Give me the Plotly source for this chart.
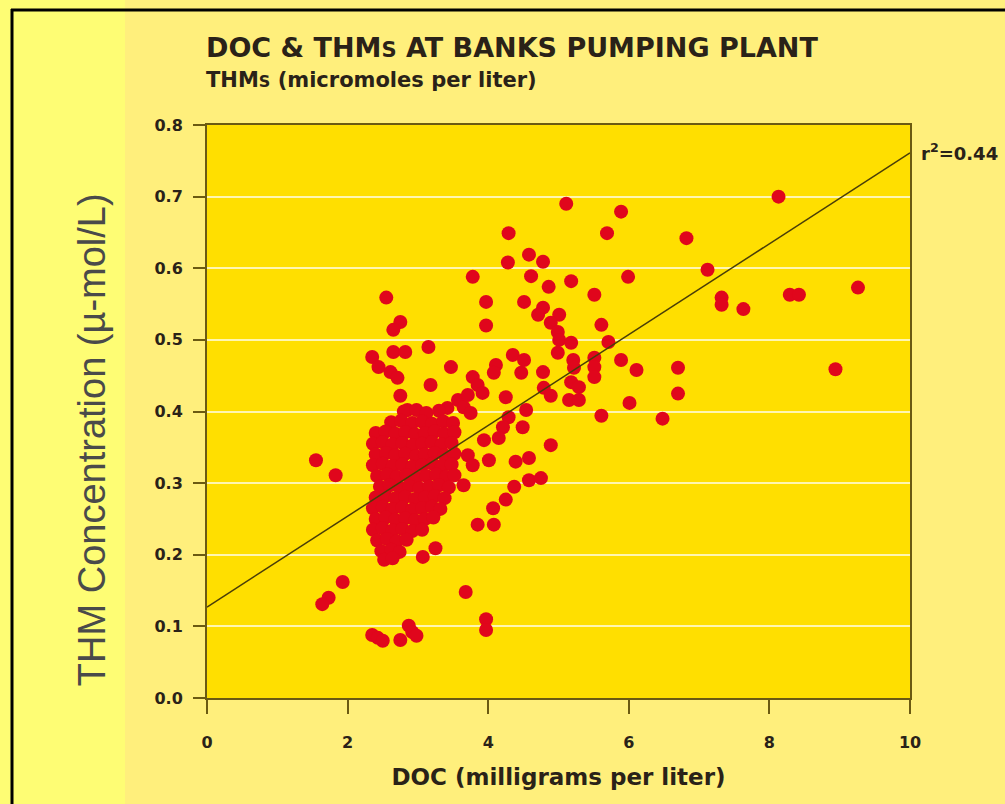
import plotly.graph_objects as go

# Dissolved organic carbon (mg/L) vs. trihalomethanes (umol/L), Banks Pumping Plant
doc_scatter = [
    1.55, 1.83, 1.93, 1.73, 1.64, 2.35, 2.43, 2.50, 2.75, 2.87, 2.92, 2.98,
    3.97, 3.97, 3.68, 3.07, 3.25, 2.55, 2.75, 2.65, 2.35, 2.44, 2.61, 2.71,
    2.65, 2.82, 3.15, 3.47, 3.18, 2.75, 2.85, 3.42, 3.57, 3.65, 4.11, 4.08,
    3.78, 3.85, 3.92, 4.25, 3.78, 3.97, 3.97, 4.29, 4.28, 4.58, 4.78, 4.61,
    5.11, 5.18, 4.86, 4.51, 4.78, 4.71, 5.01, 4.89, 4.99, 5.01, 5.18, 5.51,
    5.61, 5.71, 5.89, 5.69, 5.99, 6.82, 7.12, 7.32, 7.32, 7.63, 8.13, 8.29,
    8.42, 9.26, 8.94, 4.99, 5.21, 5.51, 5.89, 6.11, 4.35, 4.51, 4.47, 4.78,
    5.22, 5.51, 5.51, 5.18, 5.29, 4.79, 4.89, 5.15, 5.29, 6.01, 5.61, 4.54,
    4.29, 4.21, 4.49, 3.75, 3.71, 3.94, 4.15, 4.89, 3.71, 4.01, 4.39, 4.58,
    3.78, 3.65, 4.37, 4.58, 4.75, 6.48, 6.70, 6.70, 3.85, 4.08, 4.07, 4.25,
]
thm_scatter = [
    0.332, 0.311, 0.162, 0.140, 0.131, 0.088, 0.084, 0.080, 0.081, 0.101, 0.092, 0.087,
    0.110, 0.095, 0.148, 0.197, 0.209, 0.559, 0.525, 0.514, 0.476, 0.462, 0.455, 0.447,
    0.483, 0.483, 0.490, 0.462, 0.437, 0.422, 0.402, 0.405, 0.416, 0.406, 0.465, 0.454,
    0.448, 0.437, 0.426, 0.420, 0.588, 0.553, 0.520, 0.649, 0.608, 0.619, 0.609, 0.589,
    0.690, 0.582, 0.574, 0.553, 0.545, 0.535, 0.535, 0.524, 0.511, 0.500, 0.496, 0.563,
    0.521, 0.497, 0.679, 0.649, 0.588, 0.642, 0.598, 0.559, 0.549, 0.543, 0.700, 0.563,
    0.563, 0.573, 0.459, 0.482, 0.472, 0.475, 0.472, 0.458, 0.479, 0.472, 0.454, 0.455,
    0.461, 0.462, 0.448, 0.441, 0.434, 0.433, 0.422, 0.416, 0.416, 0.412, 0.394, 0.402,
    0.392, 0.378, 0.378, 0.398, 0.423, 0.360, 0.363, 0.353, 0.339, 0.332, 0.330, 0.335,
    0.325, 0.297, 0.295, 0.304, 0.307, 0.390, 0.461, 0.425, 0.242, 0.242, 0.265, 0.277,
]

# Dense core of samples between 2.3 and 3.6 mg/L
doc_core = [
    2.80, 2.98, 3.12, 3.30,
    2.62, 2.76, 2.92, 3.06, 3.20, 3.36, 3.50,
    2.40, 2.54, 2.68, 2.82, 2.96, 3.10, 3.24, 3.38, 3.52,
    2.36, 2.50, 2.64, 2.78, 2.93, 3.06, 3.20, 3.34, 3.48,
    2.40, 2.55, 2.68, 2.82, 2.97, 3.10, 3.24, 3.38, 3.52,
    2.36, 2.50, 2.64, 2.78, 2.92, 3.06, 3.21, 3.34, 3.48,
    2.42, 2.56, 2.70, 2.84, 2.98, 3.12, 3.26, 3.40, 3.52,
    2.46, 2.60, 2.74, 2.88, 3.02, 3.16, 3.30, 3.44,
    2.40, 2.54, 2.68, 2.82, 2.96, 3.10, 3.24, 3.38,
    2.36, 2.50, 2.64, 2.78, 2.92, 3.06, 3.20, 3.32,
    2.40, 2.54, 2.68, 2.82, 2.96, 3.10, 3.22,
    2.36, 2.50, 2.64, 2.78, 2.92, 3.06,
    2.42, 2.56, 2.70, 2.84,
    2.48, 2.62, 2.74,
    2.52, 2.64,
]
thm_core = [
    0.400, 0.402, 0.398, 0.401,
    0.385, 0.387, 0.384, 0.386, 0.383, 0.386, 0.384,
    0.370, 0.372, 0.369, 0.371, 0.368, 0.370, 0.372, 0.369, 0.371,
    0.355, 0.357, 0.354, 0.356, 0.353, 0.355, 0.357, 0.354, 0.356,
    0.340, 0.342, 0.339, 0.341, 0.338, 0.340, 0.342, 0.339, 0.341,
    0.325, 0.327, 0.324, 0.326, 0.323, 0.325, 0.327, 0.324, 0.326,
    0.310, 0.312, 0.309, 0.311, 0.308, 0.310, 0.312, 0.309, 0.311,
    0.295, 0.297, 0.294, 0.296, 0.293, 0.295, 0.297, 0.294,
    0.280, 0.282, 0.279, 0.281, 0.278, 0.280, 0.282, 0.279,
    0.265, 0.267, 0.264, 0.266, 0.263, 0.265, 0.267, 0.264,
    0.250, 0.252, 0.249, 0.251, 0.248, 0.250, 0.252,
    0.235, 0.237, 0.234, 0.236, 0.233, 0.235,
    0.220, 0.222, 0.219, 0.221,
    0.205, 0.207, 0.204,
    0.193, 0.195,
]

# Least-squares fit reported on the chart
fit_intercept = 0.127
fit_slope = 0.0634
fit_r2 = 0.44
fit_x = [0, 10]
fit_y = [fit_intercept + fit_slope * v for v in fit_x]

x_ticks = [0, 2, 4, 6, 8, 10]
y_ticks = [0.0, 0.1, 0.2, 0.3, 0.4, 0.5, 0.6, 0.7, 0.8]
y_tick_text = ["0.0", "0.1", "0.2", "0.3", "0.4", "0.5", "0.6", "0.7", "0.8"]

PAGE_BG = "#FFEF7C"
STRIP_BG = "#FEFD74"
PLOT_BG = "#FFDF00"
AXIS_COLOR = "#6B5A12"
DOT_COLOR = "#E0061C"
INK = "#2A2218"
FONT = "DejaVu Sans"

# plot area in pixels, used to place page furniture relative to it
PW, PH = 703, 573
L, B, T = 207, 106, 125

fig = go.Figure()

fig.add_trace(go.Scatter(
    x=doc_scatter + doc_core, y=thm_scatter + thm_core,
    mode="markers",
    marker=dict(size=14, color=DOT_COLOR, line=dict(width=0)),
    hoverinfo="x+y", showlegend=False,
))
fig.add_trace(go.Scatter(
    x=fit_x, y=fit_y, mode="lines",
    line=dict(color="#4A3E08", width=1.5),
    hoverinfo="skip", showlegend=False,
))

fig.update_layout(
    width=1005, height=804,
    margin=dict(l=L, r=95, t=T, b=B),
    paper_bgcolor=PAGE_BG,
    plot_bgcolor=PLOT_BG,
    font=dict(family=FONT, color=INK),
    xaxis=dict(
        range=[0, 10], tickvals=x_ticks, ticktext=[str(v) for v in x_ticks],
        showgrid=False, zeroline=False,
        showline=True, linecolor=AXIS_COLOR, linewidth=2, mirror=True,
        ticks="outside", ticklen=14, tickwidth=2, tickcolor=AXIS_COLOR,
        ticklabelstandoff=15,
        tickfont=dict(family=FONT, size=16, color=INK, weight="bold"),
        title=dict(text="DOC (milligrams per liter)", standoff=18,
                   font=dict(family=FONT, size=23, color=INK, weight="bold")),
    ),
    yaxis=dict(
        range=[0, 0.8], tickvals=y_ticks, ticktext=y_tick_text,
        showgrid=True, gridcolor="#FFF6B0", gridwidth=2,
        zeroline=False,
        showline=True, linecolor=AXIS_COLOR, linewidth=2, mirror=True,
        ticks="outside", ticklen=12, tickwidth=2, tickcolor=AXIS_COLOR,
        ticklabelstandoff=7,
        tickfont=dict(family=FONT, size=16, color=INK, weight="bold"),
    ),
    shapes=[
        # lighter band behind the vertical axis label
        dict(type="rect", xref="paper", yref="paper",
             x0=-L / PW, x1=-82 / PW, y0=-B / PH, y1=1 + T / PH,
             fillcolor=STRIP_BG, line=dict(width=0), layer="below"),
        # frame along top and left edges
        dict(type="line", xref="paper", yref="paper",
             x0=-196 / PW, x1=1 + 95 / PW, y0=1 + 115 / PH, y1=1 + 115 / PH,
             line=dict(color="black", width=3)),
        dict(type="line", xref="paper", yref="paper",
             x0=-195 / PW, x1=-195 / PW, y0=-B / PH, y1=1 + 116 / PH,
             line=dict(color="black", width=3)),
    ],
    annotations=[
        dict(text="DOC &amp; THM<span style='font-size:21px'>S</span> AT BANKS PUMPING PLANT",
             xref="paper", yref="paper", x=-3 / PW, y=1 + 60 / PH,
             xanchor="left", yanchor="bottom", showarrow=False,
             font=dict(family=FONT, size=27, color=INK, weight="bold")),
        dict(text="THM<span style='font-size:16px'>S</span> (micromoles per liter)",
             xref="paper", yref="paper", x=-3 / PW, y=1 + 31 / PH,
             xanchor="left", yanchor="bottom", showarrow=False,
             font=dict(family=FONT, size=21, color=INK, weight="bold")),
        dict(text="r<sup>2</sup>=%.2f" % fit_r2,
             xref="paper", yref="paper", x=1 + 9 / PW, y=1 - 27 / PH,
             xanchor="left", yanchor="middle", showarrow=False,
             font=dict(family=FONT, size=18, color=INK, weight="bold")),
        dict(text="THM Concentration (\u00b5-mol/L)",
             xref="paper", yref="paper", x=-115 / PW, y=0.45,
             xanchor="center", yanchor="middle", textangle=-90, showarrow=False,
             font=dict(family="Liberation Sans", size=38, color="#4A4A4A")),
    ],
)

fig.write_html("out.html")
